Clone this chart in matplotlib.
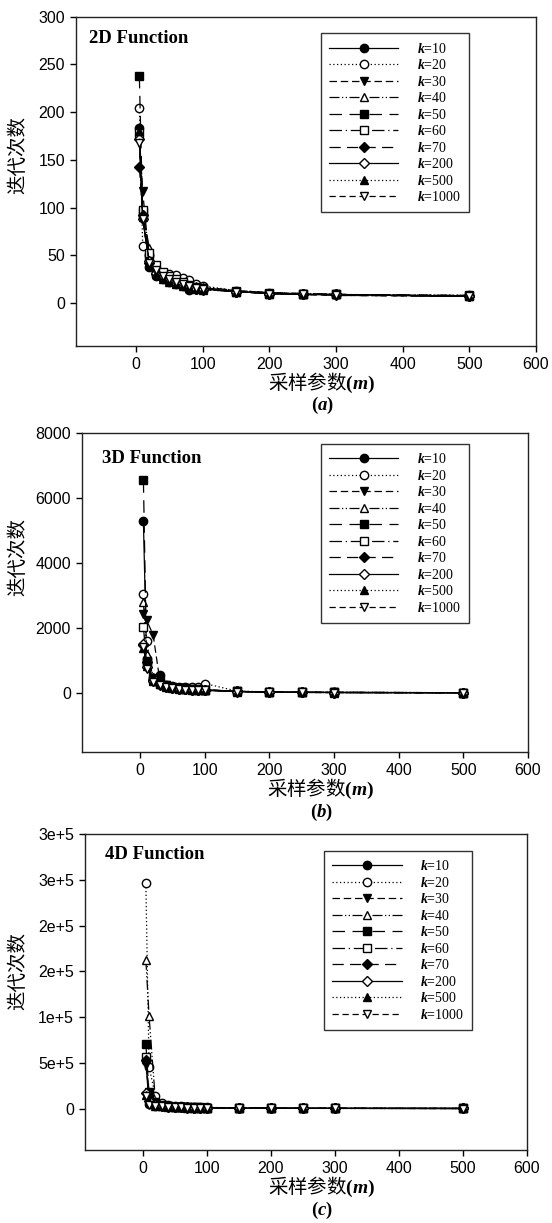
import numpy as np
import matplotlib
matplotlib.use("Agg")
import matplotlib.pyplot as plt

plt.rcParams["font.family"] = ["Liberation Sans", "DejaVu Sans"]
plt.rcParams["mathtext.fontset"] = "custom"
plt.rcParams["mathtext.rm"] = "Liberation Serif"
plt.rcParams["mathtext.it"] = "Liberation Serif:italic"
plt.rcParams["mathtext.bf"] = "Liberation Serif:bold"
plt.rcParams["mathtext.bfit"] = "Liberation Serif:italic:bold"

# sampling parameter m
m_values = [5, 10, 20, 30, 40, 50, 60, 70, 80, 90, 100, 150, 200, 250, 300, 500]
k_labels = ["10", "20", "30", "40", "50", "60", "70", "200", "500", "1000"]

# 2D function, iterations per k
iter_2d = [
    [183, 90, 38, 28, 25, 22, 20, 18, 14, 15, 15, 12, 10, 9, 9, 7],
    [204, 60, 50, 35, 32, 30, 29, 26, 24, 20, 18, 13, 11, 10, 9, 8],
    [178, 117, 45, 32, 28, 25, 22, 20, 17, 16, 15, 12, 10, 9, 9, 7],
    [175, 95, 58, 36, 30, 26, 23, 21, 19, 18, 17, 13, 11, 10, 9, 8],
    [238, 95, 48, 34, 28, 25, 22, 20, 18, 16, 15, 12, 10, 9, 9, 7],
    [178, 97, 52, 40, 33, 28, 25, 22, 19, 17, 16, 13, 11, 10, 9, 8],
    [143, 92, 42, 30, 26, 23, 21, 19, 16, 15, 14, 12, 10, 9, 8, 7],
    [172, 88, 44, 31, 27, 24, 21, 19, 17, 15, 15, 12, 10, 9, 9, 7],
    [180, 90, 40, 30, 25, 22, 20, 18, 16, 15, 14, 12, 10, 9, 9, 7],
    [168, 88, 42, 35, 28, 25, 22, 20, 18, 16, 15, 12, 10, 9, 8, 7],
]

# 3D function
iter_3d = [
    [5280, 1040, 420, 550, 220, 180, 150, 130, 120, 110, 100, 60, 40, 30, 28, 20],
    [3060, 1620, 480, 330, 260, 230, 210, 200, 190, 180, 300, 70, 45, 35, 30, 22],
    [2440, 2240, 1800, 450, 260, 200, 170, 150, 130, 120, 110, 60, 40, 32, 28, 20],
    [2800, 1220, 500, 320, 240, 190, 160, 140, 130, 120, 110, 65, 42, 32, 28, 20],
    [6540, 1000, 460, 380, 250, 200, 170, 150, 130, 120, 110, 60, 40, 30, 28, 20],
    [2050, 900, 420, 300, 220, 180, 150, 130, 120, 110, 100, 60, 40, 30, 28, 20],
    [1470, 950, 400, 280, 210, 170, 140, 125, 115, 105, 95, 58, 38, 30, 26, 19],
    [1500, 800, 380, 270, 200, 160, 140, 120, 110, 100, 95, 55, 38, 30, 26, 19],
    [1400, 850, 390, 280, 200, 165, 140, 125, 110, 100, 95, 55, 38, 30, 26, 19],
    [1420, 760, 360, 250, 190, 150, 130, 115, 105, 95, 90, 52, 36, 28, 25, 18],
]

# 4D function
iter_4d = [
    [51700, 5000, 3000, 2500, 2000, 1800, 1600, 1500, 1400, 1300, 1200, 800, 600, 500, 450, 350],
    [246000, 45800, 13500, 6000, 4000, 3000, 2500, 2200, 2000, 1800, 1600, 900, 700, 600, 500, 400],
    [48000, 18000, 6000, 3500, 2500, 2000, 1800, 1600, 1500, 1400, 1300, 800, 600, 500, 450, 350],
    [162700, 101500, 8000, 4500, 3000, 2500, 2000, 1800, 1600, 1500, 1400, 850, 650, 550, 480, 380],
    [71000, 17000, 7000, 4000, 3000, 2300, 2000, 1800, 1600, 1500, 1400, 850, 650, 550, 480, 380],
    [57000, 12000, 5000, 3000, 2500, 2000, 1700, 1500, 1400, 1300, 1200, 800, 600, 500, 450, 350],
    [53500, 15000, 6000, 3500, 2500, 2000, 1700, 1500, 1400, 1300, 1200, 800, 600, 500, 450, 350],
    [17500, 8000, 4000, 3000, 2200, 1800, 1500, 1400, 1300, 1200, 1100, 750, 550, 480, 420, 330],
    [15000, 7000, 3500, 2800, 2000, 1700, 1500, 1400, 1300, 1200, 1100, 700, 550, 450, 400, 320],
    [13500, 4000, 3000, 2500, 2000, 1700, 1500, 1300, 1200, 1100, 1000, 700, 500, 450, 400, 300],
]

yticks_4d = [0, 50000, 100000, 150000, 200000, 250000, 300000]
ytick_labels_4d = ["0", "5e+5", "1e+5", "2e+5", "2e+5", "3e+5", "3e+5"]

# (marker, filled, linestyle)
styles = [
    ("o", True, "-"),
    ("o", False, (0, (1, 2))),
    ("v", True, (0, (6, 3))),
    ("^", False, (0, (8, 2, 1, 2, 1, 2))),
    ("s", True, (0, (10, 6))),
    ("s", False, (0, (10, 3, 1, 3))),
    ("D", True, (0, (9, 5))),
    ("D", False, "-"),
    ("^", True, (0, (1, 2))),
    ("v", False, (0, (5, 3))),
]

W, H = 552, 1223


def fx(x):
    return x / W


def fy(y):
    return 1 - y / H


fig = plt.figure(figsize=(W / 100, H / 100), dpi=100)

panels = [
    dict(data=iter_2d, box=(76, 16.7, 536, 346), ylim=(-45, 300),
         yticks=np.arange(0, 301, 50), ylabels=None, title="2D Function",
         title_off=(13, 26), leg=(320.7, 33.3), ylab_y=155, xlab_y=383,
         cap_y=405, cap="a"),
    dict(data=iter_3d, box=(82, 432.7, 528, 752), ylim=(-1800, 8000),
         yticks=np.arange(0, 8001, 2000), ylabels=None, title="3D Function",
         title_off=(20, 30), leg=(320.7, 444), ylab_y=557, xlab_y=789,
         cap_y=812, cap="b"),
    dict(data=iter_4d, box=(85, 834, 527, 1150), ylim=(-45000, 300000),
         yticks=yticks_4d, ylabels=ytick_labels_4d, title="4D Function",
         title_off=(20, 25), leg=(324, 850.7), ylab_y=971, xlab_y=1187,
         cap_y=1210, cap="c"),
]

for p in panels:
    x0, y0, x1, y1 = p["box"]
    ax = fig.add_axes([fx(x0), fy(y1), fx(x1) - fx(x0), fy(y0) - fy(y1)])
    for vals, (mk, filled, ls), lab in zip(p["data"], styles, k_labels):
        ax.plot(m_values, vals, linestyle=ls, color="black", linewidth=0.9,
                marker=mk, markersize=6 if mk != "D" else 5,
                markerfacecolor="black" if filled else "white",
                markeredgecolor="black", markeredgewidth=1.0,
                label=r"$\mathbfit{k}$=" + lab)
    ax.set_xlim(-90, 600)
    ax.set_ylim(*p["ylim"])
    ax.set_xticks(np.arange(0, 601, 100))
    ax.set_yticks(p["yticks"])
    if p["ylabels"] is not None:
        ax.set_yticklabels(p["ylabels"])
    ax.tick_params(direction="out", length=4, width=1, labelsize=11.5, pad=4,
                   top=False, right=False)
    for s in ax.spines.values():
        s.set_linewidth(1.0)
        s.set_color("#222222")

    ax.annotate(p["title"], xy=(0, 1), xycoords="axes fraction",
                xytext=(p["title_off"][0] * 0.72, -p["title_off"][1] * 0.72),
                textcoords="offset points", ha="left", va="baseline",
                family="Liberation Serif", fontweight="bold", fontsize=13.5)

    leg = ax.legend(loc="upper left", bbox_to_anchor=(fx(p["leg"][0]), fy(p["leg"][1])),
                    bbox_transform=fig.transFigure, borderaxespad=0,
                    prop={"family": "Liberation Serif", "size": 10},
                    handlelength=5.0, handletextpad=1.3, labelspacing=0.18,
                    borderpad=0.6, fancybox=False, framealpha=1, numpoints=1)
    leg.get_frame().set_edgecolor("#333333")
    leg.get_frame().set_linewidth(1.0)

    fig.text(fx(18), fy(p["ylab_y"]), "迭代次数", rotation=90, ha="center",
             va="center", family=["Noto Sans CJK SC", "DejaVu Sans"], fontsize=14)
    fig.text(fx((x0 + x1) / 2 + 16), fy(p["xlab_y"]),
             r"采样参数$\mathbf{(}\mathbfit{m}\mathbf{)}$", ha="center",
             va="center", family=["Noto Sans CJK SC", "DejaVu Sans"], fontsize=14)
    fig.text(fx((x0 + x1) / 2 + 16), fy(p["cap_y"]),
             r"$\mathbf{(}\mathbfit{" + p["cap"] + r"}\mathbf{)}$",
             ha="center", va="center", fontsize=13.5)

fig.savefig("out.png", dpi=100)
